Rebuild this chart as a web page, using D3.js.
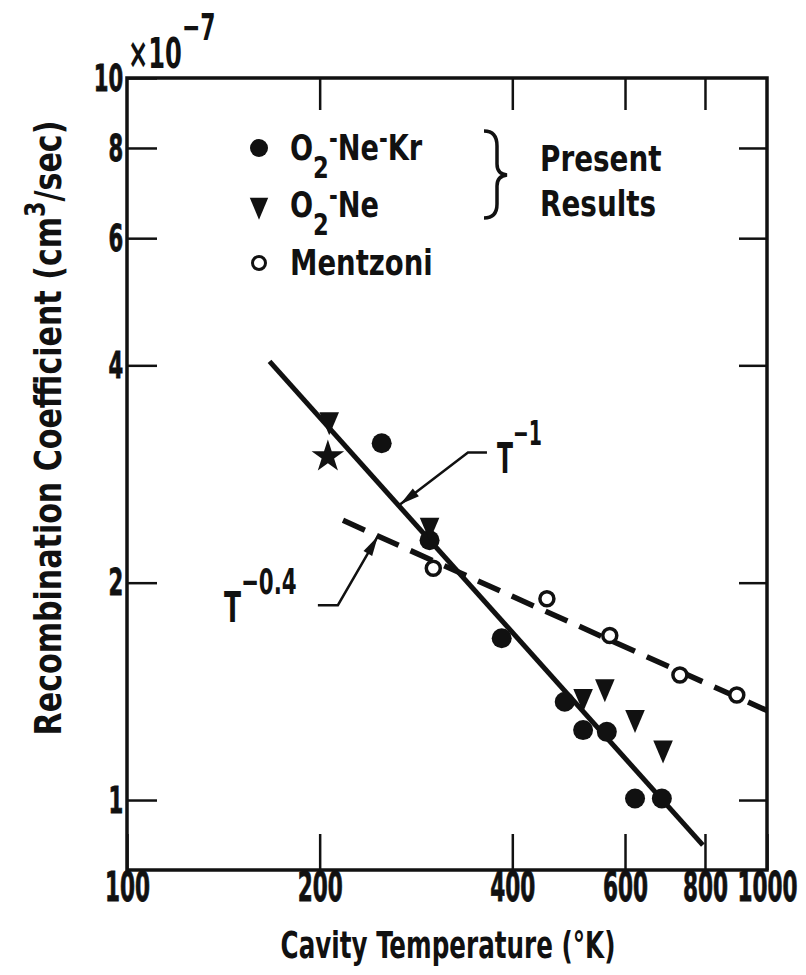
<html>
<head>
<meta charset="utf-8">
<script src="https://d3js.org/d3.v7.min.js"></script>
<style>
body { margin:0; background:#fff; }
text {
	font-family: "Liberation Sans Narrow", "DejaVu Sans Condensed", "Roboto", sans-serif;
	font-weight: bold;
	fill: #111;
}
.axis path { display:none; }
.axis line { stroke:#111; stroke-width:2.5; }
.axis text { stroke:#111; stroke-width:0.8; }
</style>
</head>
<body>
<div id="chart"></div>
<script>

// O2-Ne-Kr, filled circles
var neKrT = [250, 297, 385, 483, 516, 562, 622, 685];
var neKrA = [3.12, 2.29, 1.675, 1.368, 1.25, 1.243, 1.005, 1.005];
// O2-Ne, filled triangles
var neT = [207, 297, 516, 558, 622, 688];
var neA = [3.36, 2.40, 1.39, 1.434, 1.30, 1.18];
// single star point
var starT = [206];
var starA = [2.99];
// Mentzoni, open circles
var menT = [301, 453, 568, 731, 897];
var menA = [2.094, 1.90, 1.69, 1.49, 1.398];
// fitted lines (end points)
var fit1T = [167, 794];
var fit1A = [4.05, 0.866];
var fit04T = [217.5, 1000];
var fit04A = [2.44, 1.33];
// axes
var xTicks = [100, 200, 400, 600, 800, 1000];
var yTicks = [1, 2, 4, 6, 8, 10];

var margin = {top:78, right:39, bottom:105, left:127},
	width = 806 - margin.left - margin.right,
	height = 975 - margin.top - margin.bottom;

var x = d3.scaleLog().domain([100, 1000]).range([0, width]),
	y = d3.scaleLog().domain([0.8, 10]).range([height, 0]);

var svg = d3.select("#chart").append("svg")
	.attr("width", 806)
	.attr("height", 975);

var g = svg.append("g")
	.attr("transform", "translate(" + margin.left + "," + margin.top + ")");

function zip(a, b) { return a.map(function(d, i) { return [d, b[i]]; }); }

// narrow text: the scan uses a condensed face, so squeeze horizontally
function ctext(parent, px, py, size, sx) {
	return parent.append("text")
		.attr("transform", "translate(" + px + "," + py + ") scale(" + sx + ",1)")
		.attr("font-size", size);
}

// ticks + labels
g.append("g").attr("class", "axis")
	.attr("transform", "translate(0," + height + ")")
	.call(d3.axisBottom(x).tickValues(xTicks).tickSize(-36).tickPadding(3)
		.tickFormat(d3.format("d")))
	.selectAll("text").attr("font-size", 40).attr("transform", "scale(0.6,1)");

g.append("g").attr("class", "axis")
	.call(d3.axisTop(x).tickValues([200, 400, 600, 800]).tickSize(-32).tickFormat(""));

g.append("g").attr("class", "axis")
	.call(d3.axisLeft(y).tickValues(yTicks).tickSize(-30).tickPadding(6)
		.tickFormat(d3.format("d")))
	.selectAll("text").attr("font-size", 38).attr("transform", "scale(0.62,1)");

g.append("g").attr("class", "axis")
	.attr("transform", "translate(" + width + ",0)")
	.call(d3.axisRight(y).tickValues([1, 2, 4, 6, 8]).tickSize(-28).tickFormat(""));

// frame
g.append("rect")
	.attr("width", width).attr("height", height)
	.attr("fill", "none").attr("stroke", "#111").attr("stroke-width", 3.5);

// fitted lines
var line = d3.line().x(function(d) { return x(d[0]); }).y(function(d) { return y(d[1]); });

g.append("path").datum(zip(fit1T, fit1A))
	.attr("d", line).attr("fill", "none")
	.attr("stroke", "#111").attr("stroke-width", 5);

g.append("path").datum(zip(fit04T, fit04A))
	.attr("d", line).attr("fill", "none")
	.attr("stroke", "#111").attr("stroke-width", 5.5)
	.attr("stroke-dasharray", "24,13");

// points
g.selectAll(".neKr").data(zip(neKrT, neKrA)).enter().append("circle")
	.attr("class", "neKr")
	.attr("cx", function(d) { return x(d[0]); })
	.attr("cy", function(d) { return y(d[1]); })
	.attr("r", 10).attr("fill", "#111");

var tri = d3.symbol().type(d3.symbolTriangle).size(230);
g.selectAll(".ne").data(zip(neT, neA)).enter().append("path")
	.attr("class", "ne")
	.attr("d", tri)
	.attr("transform", function(d) {
		return "translate(" + x(d[0]) + "," + y(d[1]) + ") rotate(180) scale(0.85,1.15)";
	})
	.attr("fill", "#111");

g.selectAll(".star").data(zip(starT, starA)).enter().append("path")
	.attr("class", "star")
	.attr("d", d3.symbol().type(d3.symbolStar).size(330))
	.attr("transform", function(d) { return "translate(" + x(d[0]) + "," + y(d[1]) + ")"; })
	.attr("fill", "#111");

g.selectAll(".men").data(zip(menT, menA)).enter().append("circle")
	.attr("class", "men")
	.attr("cx", function(d) { return x(d[0]); })
	.attr("cy", function(d) { return y(d[1]); })
	.attr("r", 7).attr("fill", "#fff")
	.attr("stroke", "#111").attr("stroke-width", 3.5);

// annotation arrows
function arrow(tx, ty, pts) {
	var p = [[tx, ty]].concat(pts.map(function(q) { return [tx + q[0], ty + q[1]]; }));
	g.append("path").attr("d", d3.line()(p))
		.attr("fill", "none").attr("stroke", "#111").attr("stroke-width", 2.5);
	var a = Math.atan2(p[1][1] - ty, p[1][0] - tx) * 180 / Math.PI;
	g.append("path").attr("d", "M0,0 L20,-5 L20,5 Z")
		.attr("transform", "translate(" + tx + "," + ty + ") rotate(" + a + ")")
		.attr("fill", "#111");
}

var t1x = x(267), t1y = y(2.566);
arrow(t1x, t1y, [[68, -52], [87, -52]]);
var l1 = ctext(g, t1x + 97, t1y - 32, 42, 0.62);
l1.append("tspan").text("T");
l1.append("tspan").attr("dy", -28).attr("font-size", 34).text("\u22121");

var t2x = x(246.6), t2y = y(2.32);
arrow(t2x, t2y, [[-40, 69], [-60, 69]]);
var l2 = ctext(g, t2x - 154, t2y + 86, 42, 0.66);
l2.append("tspan").text("T");
l2.append("tspan").attr("dy", -28).attr("font-size", 36).text("\u22120.4");

// legend
var leg = svg.append("g");
leg.append("circle").attr("cx", 259).attr("cy", 148).attr("r", 9).attr("fill", "#111");
leg.append("path").attr("d", tri)
	.attr("transform", "translate(259,205) rotate(180) scale(0.8,1.1)").attr("fill", "#111");
leg.append("circle").attr("cx", 259).attr("cy", 263).attr("r", 6.5)
	.attr("fill", "#fff").attr("stroke", "#111").attr("stroke-width", 3);

function formula(yy, parts) {
	var t = ctext(leg, 290, yy, 36, 0.84);
	parts.forEach(function(p) {
		t.append("tspan").attr("dy", p[1]).attr("font-size", p[2]).text(p[0]);
	});
}
formula(160, [["O", 0, 36], ["2", 18, 30], ["-", -30, 28], ["Ne", 12, 36], ["-", -12, 28], ["Kr", 12, 36]]);
formula(217, [["O", 0, 36], ["2", 18, 30], ["-", -30, 28], ["Ne", 12, 36]]);
ctext(leg, 290, 275, 36, 0.85).text("Mentzoni");

leg.append("path")
	.attr("d", "M484,131 Q497,131 497,146 L497,164 Q497,174 507,175 Q497,176 497,186 L497,204 Q497,218 484,218")
	.attr("fill", "none").attr("stroke", "#111").attr("stroke-width", 3.5);
ctext(leg, 540, 171, 36, 0.86).text("Present");
ctext(leg, 540, 216, 36, 0.86).text("Results");

// exponent of the y scale
var ex = ctext(svg, 128, 68, 42, 0.64);
ex.append("tspan").text("\u00d710");
ex.append("tspan").attr("dy", -28).attr("font-size", 38).text("\u22127");

// axis titles
ctext(svg, 448, 958, 37, 0.74)
	.attr("text-anchor", "middle")
	.text("Cavity Temperature (\u00b0K)");

var yt = svg.append("text")
	.attr("transform", "translate(61,428) rotate(-90) scale(0.88,1)")
	.attr("text-anchor", "middle").attr("font-size", 38);
yt.append("tspan").text("Recombination Coefficient  (cm");
yt.append("tspan").attr("dy", -16).attr("font-size", 28).text("3");
yt.append("tspan").attr("dy", 16).text("/sec)");

</script>
</body>
</html>
